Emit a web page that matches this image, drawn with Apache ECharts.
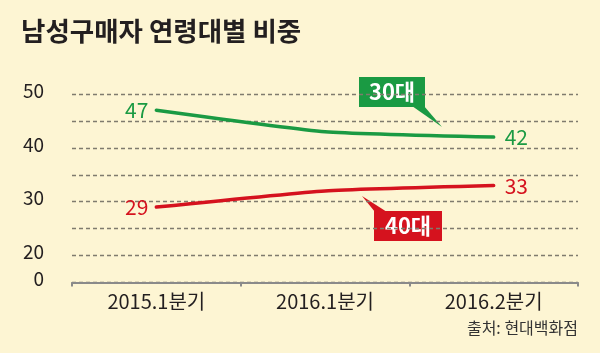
<!DOCTYPE html>
<html><head><meta charset="utf-8">
<script src="https://cdn.jsdelivr.net/npm/echarts@6/dist/echarts.min.js"></script>
<style>html,body{margin:0;padding:0;background:#fdf5d3;}#c{width:600px;height:353px;}</style>
</head><body><div id="c"></div>
<script>
const categories = ['2015.1분기', '2016.1분기', '2016.2분기'];
const age30 = [47, 43, 42];
const age40 = [29, 32, 33];
const yTickLabels = {15: '0', 20: '20', 30: '30', 40: '40', 50: '50'};
const FONT = '"Noto Sans CJK KR", "Noto Sans", sans-serif';
const GREEN = '#1a9a43';
const RED = '#d5121e';

const chart = echarts.init(document.getElementById('c'), null, {renderer: 'canvas'});
const lastIdx = categories.length - 1;
function seriesLabel(color) {
  return {
    show: true,
    formatter: p => p.dataIndex === 0 ? String(p.value) : (p.dataIndex === lastIdx ? '' : ''),
    position: 'left', color: color, fontFamily: FONT, fontSize: 21, distance: 8
  };
}
function endMark(color, arr) {
  return {
    symbol: 'circle', symbolSize: 0,
    data: [{coord: [lastIdx, arr[lastIdx]], value: arr[lastIdx]}],
    label: {show: true, position: 'right', distance: 11, color: color, fontFamily: FONT, fontSize: 21, formatter: p => String(p.value)}
  };
}
chart.setOption({
  backgroundColor: '#fdf5d3',
  animation: false,
  title: {
    text: '남성구매자 연령대별 비중', left: 16, top: 13,
    textStyle: {fontFamily: FONT, fontSize: 26.5, fontWeight: 'bold', color: '#231f20'}
  },
  grid: {left: 72, right: 22, top: 94, bottom: 70.5},
  xAxis: {
    type: 'category', data: categories, boundaryGap: true,
    axisLine: {lineStyle: {color: '#8a8a8a', width: 2}},
    axisTick: {show: true, length: 4, lineStyle: {color: '#8a8a8a', width: 2}},
    axisLabel: {fontFamily: FONT, fontSize: 20, color: '#231f20', margin: 9}
  },
  yAxis: {
    type: 'value', min: 15, max: 50, interval: 5,
    axisLine: {show: false}, axisTick: {show: false},
    axisLabel: {
      formatter: v => yTickLabels[v] !== undefined ? yTickLabels[v] : '',
      fontFamily: FONT, fontSize: 19, color: '#231f20', margin: 28,
      verticalAlign: 'bottom', lineHeight: 7
    },
    splitLine: {lineStyle: {color: '#7f7b6e', width: 1.3, type: [4, 3]}}
  },
  series: [
    {
      name: '30대', type: 'line', data: age30, smooth: 0.15,
      symbol: 'circle', symbolSize: 0, showSymbol: true,
      lineStyle: {color: GREEN, width: 3.5, cap: 'round'},
      itemStyle: {color: GREEN},
      label: seriesLabel(GREEN),
      markPoint: endMark(GREEN, age30)
    },
    {
      name: '40대', type: 'line', data: age40, smooth: 0.15,
      symbol: 'circle', symbolSize: 0, showSymbol: true,
      lineStyle: {color: RED, width: 3.5, cap: 'round'},
      itemStyle: {color: RED},
      label: seriesLabel(RED),
      markPoint: endMark(RED, age40)
    }
  ],
  graphic: [
    {type: 'polygon', shape: {points: [[412, 106], [424, 106], [442, 127]]}, style: {fill: GREEN}},
    {type: 'rect', shape: {x: 359, y: 77, width: 66, height: 30}, style: {fill: GREEN}},
    {type: 'text', x: 392, y: 92, style: {text: '30대', fill: '#fff', font: 'bold 22px ' + FONT, align: 'center', verticalAlign: 'middle'}},
    {type: 'polygon', shape: {points: [[375, 212], [387, 212], [362, 196]]}, style: {fill: RED}},
    {type: 'rect', shape: {x: 374, y: 211, width: 68, height: 30}, style: {fill: RED}},
    {type: 'text', x: 408, y: 226, style: {text: '40대', fill: '#fff', font: 'bold 22px ' + FONT, align: 'center', verticalAlign: 'middle'}},
    {type: 'text', right: 22, top: 320, style: {text: '출처: 현대백화점', fill: '#333', font: '16px ' + FONT}}
  ]
});
</script></body></html>
